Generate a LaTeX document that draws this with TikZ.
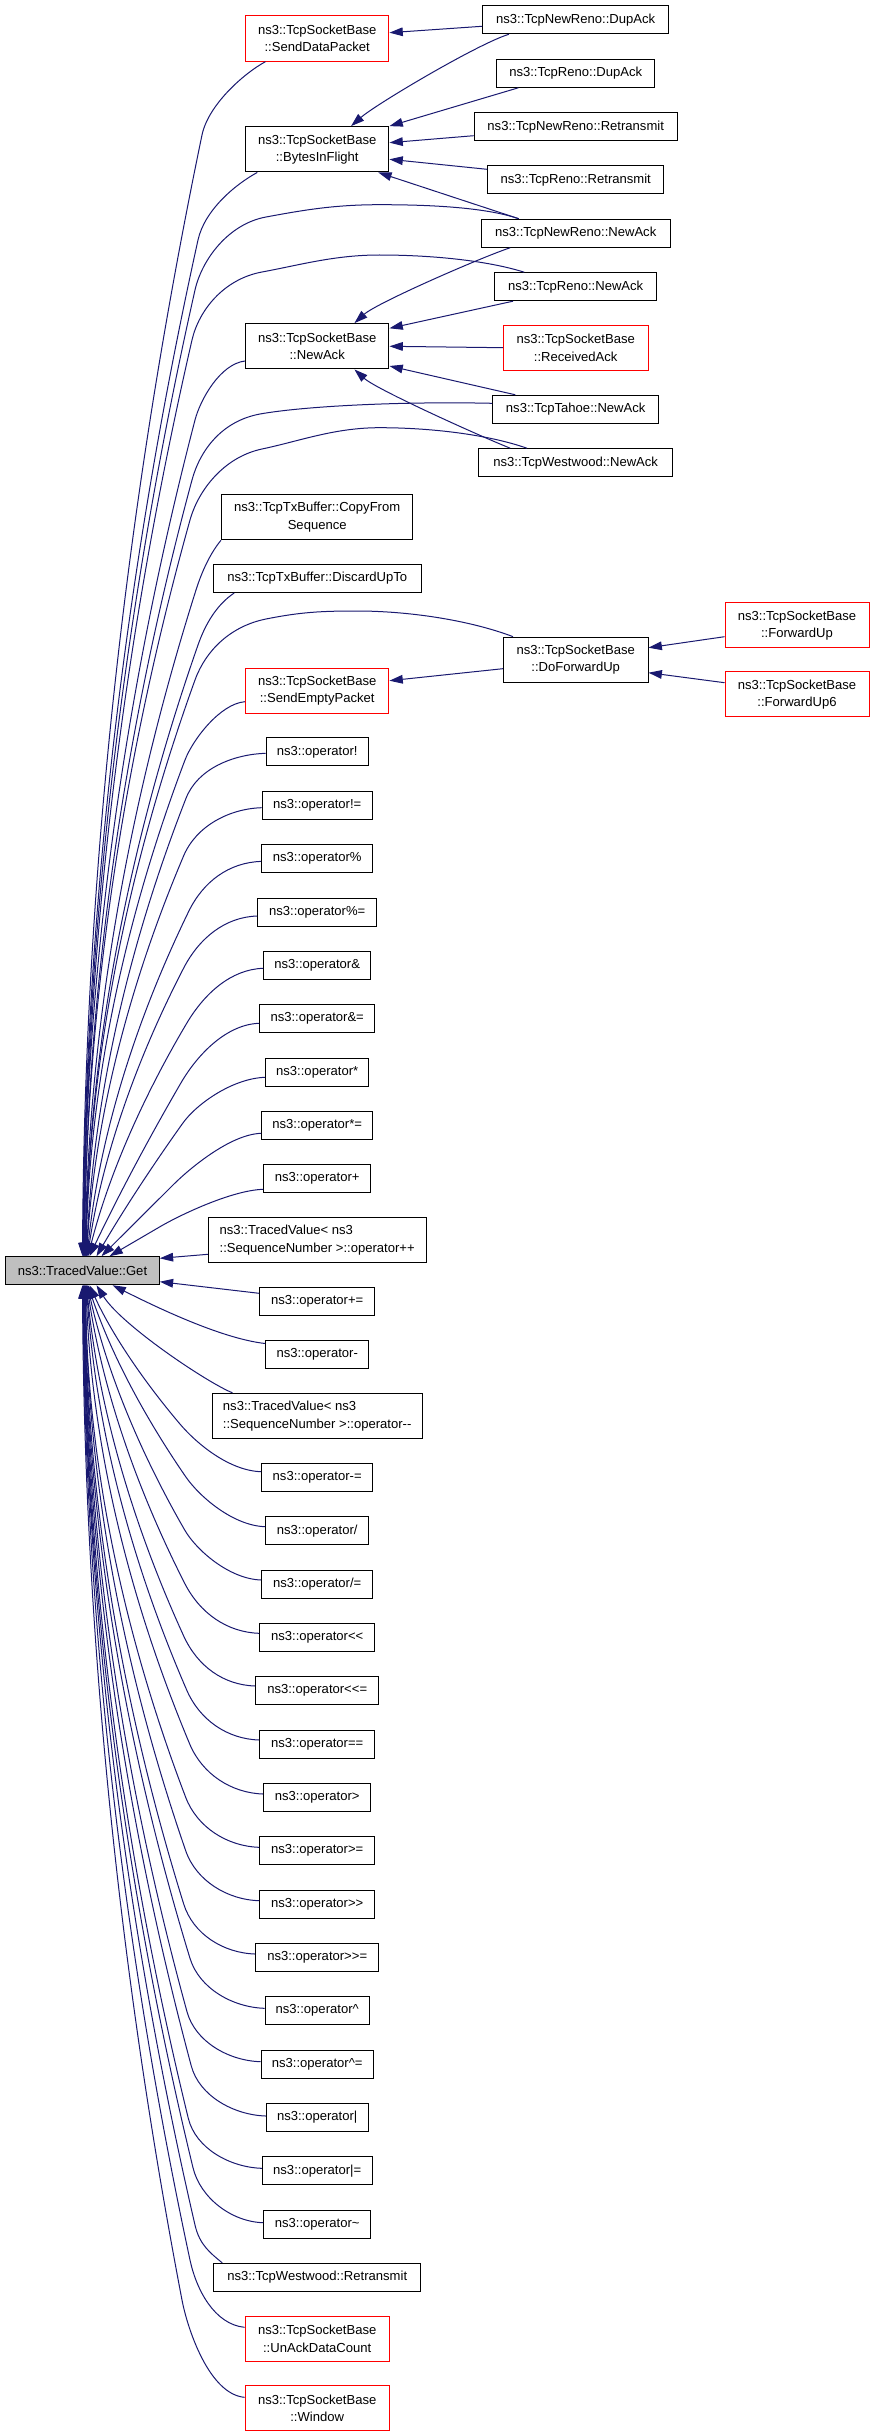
\documentclass[tikz,border=0pt]{standalone}
\usepackage{fontspec}
\newfontfamily\dgfont{Liberation Sans}
\usetikzlibrary{arrows.meta,calc}
\definecolor{edgeblue}{HTML}{191970}
\definecolor{getgray}{HTML}{BFBFBF}
% #1 head path, #2 first control (relative), #3 bend point, #4 end, #5 curvature, #6 back distance
\newcommand\edgeTop[6]{%
 \draw[edge] let \p1=#3, \p2=#4, \n1={(\x1-\x2)/(\y1-\y2)}, \n2={\n1*(1+#5)},
   \n3={\n1*(1-#5)}, \n4={(\y1-\y2)/3} in
   #1 .. controls +#2 and (\x1+\n2*#6,\y1+#6) .. (\p1)
   .. controls (\x1-\n2*\n4,\y1-\n4) and (\x2+\n3*\n4,\y2+\n4) .. (\p2);}
\newcommand\edgeBot[6]{%
 \draw[edge] let \p1=#3, \p2=#4, \n1={(\x1-\x2)/(\y1-\y2)}, \n2={\n1*(1+#5)},
   \n3={\n1*(1-#5)}, \n4={(\y1-\y2)/3} in
   #1 .. controls +#2 and (\x1-\n2*#6,\y1-#6) .. (\p1)
   .. controls (\x1-\n2*\n4,\y1-\n4) and (\x2+\n3*\n4,\y2+\n4) .. (\p2);}
\begin{document}
\begin{tikzpicture}[x=0.75pt,y=-0.75pt,
  box/.style={draw=black, line width=0.75pt, fill=white, inner sep=0pt,
    minimum height=21pt, font=\dgfont\fontsize{9.8}{13}\selectfont, align=center},
  rbox/.style={box, draw=red},
  tall/.style={minimum height=34pt},
  bw/.style={minimum width=#1*0.75pt},
  edge/.style={draw=edgeblue, line width=0.75pt, -{Triangle[length=10pt,width=6.5pt]}}]
\fill[white] (0,0) rectangle (875,2436);
\useasboundingbox (0,0) rectangle (875,2436);

% ---------- nodes ----------
\node[box,bw=153.6,fill=getgray] (get) at (82.5,1270.7) {ns3::TracedValue::Get};

\node[rbox,tall,bw=143.5] (sdp) at (317.2,38.5) {ns3::TcpSocketBase\\::SendDataPacket};
\node[box,tall,bw=143.5] (bif) at (317.2,149.3) {ns3::TcpSocketBase\\::BytesInFlight};
\node[box,tall,bw=143.5] (nak) at (317.2,346.3) {ns3::TcpSocketBase\\::NewAck};
\node[box,tall,bw=191.5] (cfs) at (317.2,517.2) {ns3::TcpTxBuffer::CopyFrom\\Sequence};
\node[box,bw=207.8] (dut) at (317.2,578.5) {ns3::TcpTxBuffer::DiscardUpTo};
\node[rbox,tall,bw=143.5] (sep) at (317.2,690.7) {ns3::TcpSocketBase\\::SendEmptyPacket};
\node[box,bw=102] (op1) at (317.2,751.8) {ns3::operator!};
\node[box,bw=110.3] (op2) at (317.2,805.2) {ns3::operator!=};
\node[box,bw=111] (op3) at (317.2,858.7) {ns3::operator\%};
\node[box,bw=119] (op4) at (317.2,912) {ns3::operator\%=};
\node[box,bw=107] (op5) at (317.2,965.3) {ns3::operator\&};
\node[box,bw=115] (op6) at (317.2,1018.7) {ns3::operator\&=};
\node[box,bw=103] (op7) at (317.2,1072) {ns3::operator*};
\node[box,bw=111] (op8) at (317.2,1125.3) {ns3::operator*=};
\node[box,bw=107] (op9) at (317.2,1178.7) {ns3::operator+};
\node[box,tall,bw=217.7,align=left] (opinc) at (317.2,1240) {ns3::TracedValue< ns3\\::SequenceNumber >::operator++};
\node[box,bw=115] (op10) at (317.2,1301.3) {ns3::operator+=};
\node[box,bw=103] (op11) at (317.2,1354.7) {ns3::operator-};
\node[box,tall,bw=209.7,align=left] (opdec) at (317.2,1416) {ns3::TracedValue< ns3\\::SequenceNumber >::operator-{}-};
\node[box,bw=111] (op12) at (317.2,1477.3) {ns3::operator-=};
\node[box,bw=103] (op13) at (317.2,1530.7) {ns3::operator/};
\node[box,bw=111] (op14) at (317.2,1584) {ns3::operator/=};
\node[box,bw=115] (op15) at (317.2,1637.3) {ns3::operator<{}<};
\node[box,bw=123] (op16) at (317.2,1690.7) {ns3::operator<{}<=};
\node[box,bw=115] (op17) at (317.2,1744) {ns3::operator==};
\node[box,bw=107] (op18) at (317.2,1797.3) {ns3::operator>};
\node[box,bw=115] (op19) at (317.2,1850.7) {ns3::operator>=};
\node[box,bw=115] (op20) at (317.2,1904) {ns3::operator>{}>};
\node[box,bw=123] (op21) at (317.2,1957.3) {ns3::operator>{}>=};
\node[box,bw=104.3] (op22) at (317.2,2010.7) {ns3::operator\textasciicircum};
\node[box,bw=112.3] (op23) at (317.2,2064) {ns3::operator\textasciicircum=};
\node[box,bw=101.7] (op24) at (317.2,2117.3) {ns3::operator|};
\node[box,bw=109.7] (op25) at (317.2,2170.7) {ns3::operator|=};
\node[box,bw=107] (op26) at (317.2,2224) {ns3::operator\textasciitilde};
\node[box,bw=207] (twr) at (317.2,2277.3) {ns3::TcpWestwood::Retransmit};
\node[rbox,tall,bw=144.3] (uadc) at (317.2,2338.7) {ns3::TcpSocketBase\\::UnAckDataCount};
\node[rbox,tall,bw=144.3] (win) at (317.2,2408) {ns3::TcpSocketBase\\::Window};

\node[box,bw=186.3] (nrdup) at (575.7,19.8) {ns3::TcpNewReno::DupAck};
\node[box,bw=158.3] (rdup) at (575.7,73.3) {ns3::TcpReno::DupAck};
\node[box,bw=203] (nrret) at (575.7,126.7) {ns3::TcpNewReno::Retransmit};
\node[box,bw=176.3] (rret) at (575.7,179.9) {ns3::TcpReno::Retransmit};
\node[box,bw=189] (nrna) at (575.7,233.2) {ns3::TcpNewReno::NewAck};
\node[box,bw=162.4] (rna) at (575.7,286.7) {ns3::TcpReno::NewAck};
\node[rbox,tall,bw=144.7] (rack) at (575.7,347.7) {ns3::TcpSocketBase\\::ReceivedAck};
\node[box,bw=166.3] (tna) at (575.7,409.3) {ns3::TcpTahoe::NewAck};
\node[box,bw=193.6] (wna) at (575.7,462.7) {ns3::TcpWestwood::NewAck};
\node[box,tall,bw=144.7] (dfu) at (575.7,659.8) {ns3::TcpSocketBase\\::DoForwardUp};
\node[rbox,tall,bw=144] (fu) at (797,625.3) {ns3::TcpSocketBase\\::ForwardUp};
\node[rbox,tall,bw=144] (fu6) at (797,694.3) {ns3::TcpSocketBase\\::ForwardUp6};

% ---------- edges among upper nodes ----------
\draw[edge] ($(nrdup.west)+(0,6.5)$) -- ($(sdp.east)+(0,-5.8)$);
\draw[edge] ($(nrdup.south west)+(26.8,0)$) .. controls +(-30,9) and +(25,-22) .. ($(bif.north west)+(106.1,0)$);
\draw[edge] ($(rdup.south west)+(22.3,0)$) -- (bif.north east);
\draw[edge] ($(nrret.west)+(0,9)$) -- ($(bif.east)+(0,-6.6)$);
\draw[edge] ($(rret.west)+(0,-10.6)$) -- ($(bif.east)+(0,10)$);
\draw[edge] ($(nrna.north west)+(38,0)$) -- ($(bif.south east)+(-11.2,0)$);
\draw[edge] ($(nrna.south west)+(29.6,0)$) .. controls +(-30,10) and +(22,-20) .. ($(nak.north west)+(109.5,0)$);
\draw[edge] ($(rna.south west)+(19,0)$) -- ($(nak.east)+(0,-18)$);
\draw[edge] (rack.west) -- (nak.east);
\draw[edge] ($(tna.north west)+(23.3,0)$) -- ($(nak.east)+(0,19.7)$);
\draw[edge] ($(wna.north west)+(31.8,0)$) .. controls +(-30,-12) and +(22,20) .. ($(nak.south west)+(109.5,0)$);
\draw[edge] ($(dfu.west)+(0,8.9)$) -- ($(sep.east)+(0,-10)$);
\draw[edge] ($(fu.west)+(0,11.4)$) -- ($(dfu.east)+(0,-12.1)$);
\draw[edge] ($(fu6.west)+(0,-11.6)$) -- ($(dfu.east)+(0,12.9)$);

% ---------- edges to Get from above ----------
\edgeTop{($(sdp.south west)+(20.5,0)$)}{(-22,12)}{(202,135)}{($(get.north west)+(77.3,0)$)}{0.95}{22.5pt}
\edgeTop{($(bif.south west)+(12.3,0)$)}{(-22,12)}{(198,240)}{($(get.north west)+(77.8,0)$)}{0.95}{22.5pt}
\edgeTop{($(nrna.north west)+(38,0)$) .. controls +(-35,-12) and +(45,0) .. (379.5,204.7) .. controls +(-45,0) and +(38,-7) .. (266,217)}{(-38,7)}{(195,290)}{($(get.north west)+(78.3,0)$)}{0.95}{22.5pt}
\edgeTop{($(rna.north west)+(30.2,0)$) .. controls +(-38,-12) and +(50,0) .. (379.5,255) .. controls +(-45,0) and +(38,-7) .. (262,272)}{(-38,7)}{(192,340)}{($(get.north west)+(78.8,0)$)}{0.95}{22.5pt}
\edgeTop{($(nak.west)+(0,14.7)$)}{(-25,3)}{(195,420)}{($(get.north west)+(78.3,0)$)}{0.95}{15pt}
\edgeTop{($(tna.west)+(0,-6)$) .. controls +(-90,-2) and +(45,-8) .. (260,414)}{(-38,7)}{(192,480)}{($(get.north west)+(79.3,0)$)}{0.95}{22.5pt}
\edgeTop{($(wna.north west)+(48.5,0)$) .. controls +(-40,-14) and +(50,0) .. (379.5,427.7) .. controls +(-45,0) and +(38,-8) .. (262,449)}{(-38,8)}{(190,520)}{($(get.north west)+(79.3,0)$)}{0.95}{22.5pt}
\edgeTop{(cfs.south west)}{(-10,12)}{(196,590)}{($(get.north west)+(79.8,0)$)}{0.9}{15pt}
\edgeTop{($(dut.south west)+(21.4,0)$)}{(-18,12)}{(198,645)}{($(get.north west)+(80.3,0)$)}{0.9}{15pt}
\edgeTop{($(dfu.north west)+(10.1,0)$) .. controls +(-45,-17) and +(50,0) .. (357,611) .. controls +(-35,0) and +(35,-7) .. (266,619)}{(-35,7)}{(195,680)}{($(get.north west)+(80.3,0)$)}{0.9}{22.5pt}
\edgeTop{($(sep.west)+(0,11)$)}{(-25,2)}{(185,760)}{($(get.north west)+(80.8,0)$)}{0.9}{15pt}
\edgeTop{($(op1.west)+(0,1.5)$)}{(-32,1)}{(186,798.3)}{($(get.north west)+(81.3,0)$)}{0.8}{22.5pt}
\edgeTop{($(op2.west)+(0,2.5)$)}{(-32,1)}{(183.7,855.7)}{($(get.north west)+(81.3,0)$)}{0.75}{22.5pt}
\edgeTop{($(op3.west)+(0,2.7)$)}{(-32,1)}{(188.7,911.4)}{($(get.north west)+(81.8,0)$)}{0.65}{22.5pt}
\edgeTop{($(op4.west)+(0,4)$)}{(-32,1)}{(183.7,968)}{($(get.north west)+(82.3,0)$)}{0.55}{22.5pt}
\edgeTop{($(op5.west)+(0,3)$)}{(-32,1)}{(186.7,1023.3)}{($(get.north west)+(82.8,0)$)}{0.4}{22.5pt}
\edgeTop{($(op6.west)+(0,4.6)$)}{(-32,1)}{(180.7,1083.3)}{($(get.north west)+(84.3,0)$)}{0.1}{22.5pt}
\edgeTop{($(op7.west)+(0,5.3)$)}{(-32,1)}{(182.7,1123.3)}{($(get.north west)+(91.3,0)$)}{0.1}{15pt}
\edgeTop{($(op8.west)+(0,8)$)}{(-32,1)}{(173.7,1184.3)}{($(get.north west)+(96.3,0)$)}{0}{10pt}
\edgeTop{($(op9.west)+(0,10.6)$)}{(-32,1)}{(160.7,1226.3)}{($(get.north west)+(104.3,0)$)}{0}{8pt}
\draw[edge] ($(opinc.west)+(0,14.3)$) -- ($(get.east)+(0,-12.4)$);
\draw[edge] ($(op10.west)+(0,-8)$) -- ($(get.east)+(0,11)$);

% ---------- edges to Get from below ----------
\draw[edge] ($(op11.north west)+(0,3.3)$) .. controls +(-45,-5) and +(40,20) .. ($(get.south west)+(107.3,0)$);
\draw[edge] ($(opdec.north west)+(20.7,0)$) .. controls +(-25,-10) and +(25,40) .. ($(get.south west)+(91.3,0)$);
\edgeBot{($(op12.west)+(0,-5.6)$)}{(-32,-1)}{(179.7,1423.7)}{($(get.south west)+(84.3,0)$)}{0.3}{15pt}
\edgeBot{($(op13.west)+(0,-4)$)}{(-32,-1)}{(185.7,1476.7)}{($(get.south west)+(82.8,0)$)}{0.35}{15pt}
\edgeBot{($(op14.west)+(0,-4)$)}{(-32,-1)}{(184.7,1530)}{($(get.south west)+(82.3,0)$)}{0.45}{15pt}
\edgeBot{($(op15.west)+(0,-4)$)}{(-32,-1)}{(184.7,1583.3)}{($(get.south west)+(81.8,0)$)}{0.55}{22.5pt}
\edgeBot{($(op16.west)+(0,-4.7)$)}{(-32,-1)}{(183.7,1636)}{($(get.south west)+(81.3,0)$)}{0.65}{22.5pt}
\edgeBot{($(op17.west)+(0,-4)$)}{(-32,-1)}{(186.7,1690)}{($(get.south west)+(81.3,0)$)}{0.75}{22.5pt}
\edgeBot{($(op18.west)+(0,-3.3)$)}{(-32,-1)}{(189.7,1744)}{($(get.south west)+(80.8,0)$)}{0.85}{22.5pt}
\edgeBot{($(op19.west)+(0,-3.4)$)}{(-32,-1)}{(185.7,1797.3)}{($(get.south west)+(80.3,0)$)}{0.95}{22.5pt}
\edgeBot{($(op20.west)+(0,-3.3)$)}{(-32,-1)}{(185.7,1850.7)}{($(get.south west)+(80.3,0)$)}{0.95}{22.5pt}
\edgeBot{($(op21.west)+(0,-3.3)$)}{(-32,-1)}{(183.7,1904)}{($(get.south west)+(79.8,0)$)}{0.95}{22.5pt}
\edgeBot{($(op22.west)+(0,-2.4)$)}{(-32,-1)}{(190,1958.3)}{($(get.south west)+(79.3,0)$)}{0.95}{22.5pt}
\edgeBot{($(op23.west)+(0,-2.3)$)}{(-32,-1)}{(187,2011.7)}{($(get.south west)+(79.3,0)$)}{0.95}{22.5pt}
\edgeBot{($(op24.west)+(0,-1.3)$)}{(-32,-1)}{(191.3,2066)}{($(get.south west)+(78.8,0)$)}{0.95}{22.5pt}
\edgeBot{($(op25.west)+(0,-2.4)$)}{(-32,-1)}{(188.3,2118.3)}{($(get.south west)+(78.8,0)$)}{0.95}{22.5pt}
\edgeBot{($(op26.west)+(0,-1.3)$)}{(-32,-1)}{(193,2167.7)}{($(get.south west)+(78.3,0)$)}{0.95}{22.5pt}
\edgeBot{($(twr.north west)+(9,0)$)}{(-12,-10)}{(195,2225)}{($(get.south west)+(78.3,0)$)}{0.95}{15pt}
\edgeBot{($(uadc.west)+(0,-11.4)$)}{(-30,-3)}{(190,2260)}{($(get.south west)+(77.8,0)$)}{0.95}{22.5pt}
\edgeBot{($(win.west)+(0,-10.7)$)}{(-35,-3)}{(182,2300)}{($(get.south west)+(77.3,0)$)}{0.95}{22.5pt}
\end{tikzpicture}
\end{document}
